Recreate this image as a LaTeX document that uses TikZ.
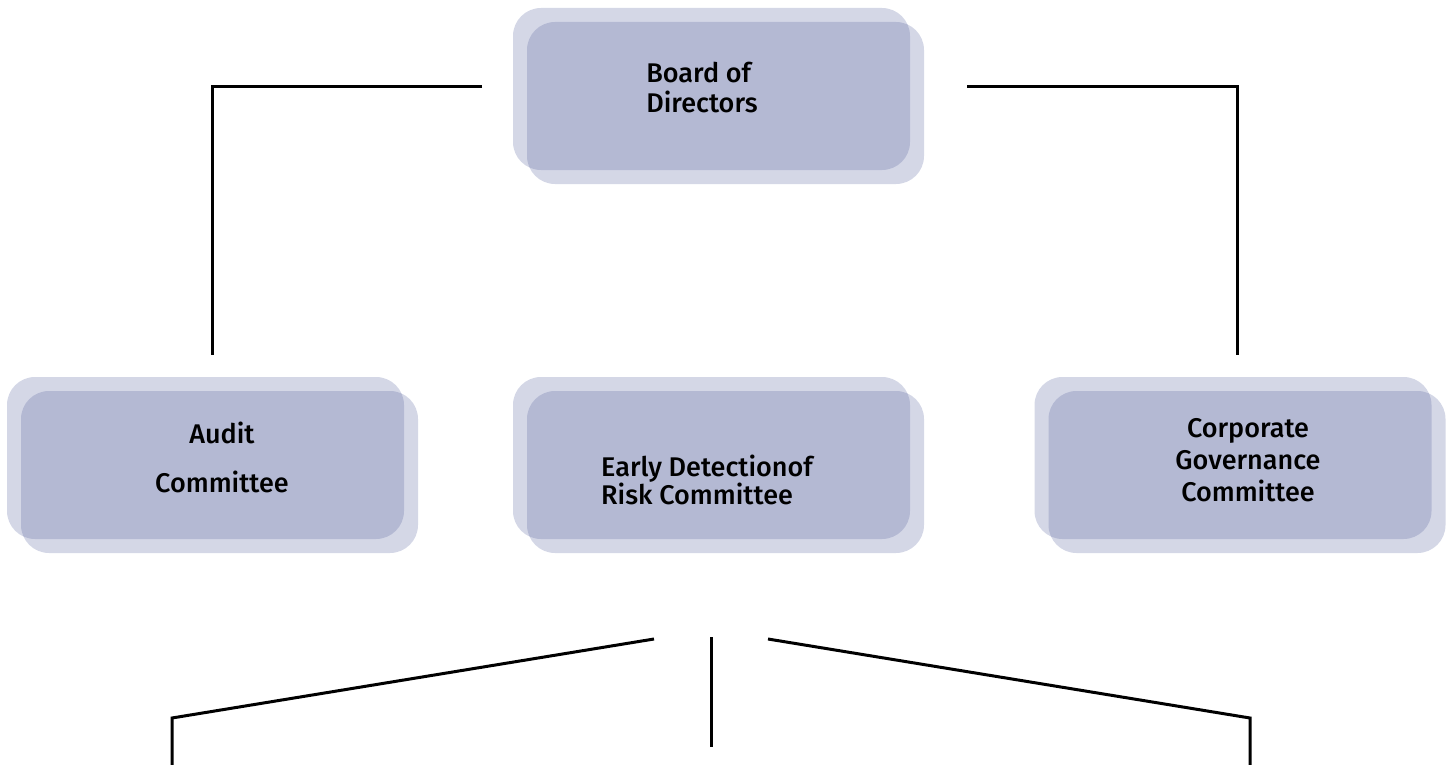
\documentclass[tikz,border=0pt]{standalone}
\usepackage{fontspec}
\setmainfont{Fira Sans}[UprightFont=* Medium]
\usetikzlibrary{positioning}
\definecolor{panelblue}{RGB}{76,88,151}
\tikzset{
  panel/.style={rounded corners=28pt, fill=panelblue, fill opacity=0.24,
    minimum width=397pt, minimum height=162pt, inner sep=0pt},
  caption/.style={text=black, inner sep=0pt},
  link/.style={line width=3pt, black}
}

\begin{document}
\begin{tikzpicture}[x=1pt,y=-1pt]
  \useasboundingbox (0,0) rectangle (1456,765);
  % panels, each drawn twice with a small offset
  \node[panel] (board) at (711.5,89) {};
  \node[panel] (boardsh) at ([shift={(14,14)}]board.center) {};
  \node[panel] (audit) at (205.5,458) {};
  \node[panel] (auditsh) at ([shift={(14,14)}]audit.center) {};
  \node[panel] (risk) at (711.5,458) {};
  \node[panel] (risksh) at ([shift={(14,14)}]risk.center) {};
  \node[panel] (corp) at (1233,458) {};
  \node[panel] (corpsh) at ([shift={(14,14)}]corp.center) {};
  % texts
  \node[caption, align=left, font=\fontsize{27}{30}\selectfont] (boardtxt) at (702,88) {Board of\\Directors};
  \node[caption, align=center, font=\fontsize{27}{49}\selectfont] (audittxt) at (222,457) {Audit\\Committee};
  \node[caption, align=left, font=\fontsize{27}{27}\selectfont] (risktxt) at (707,480) {Early Detectionof\\Risk Committee};
  \node[caption, align=center, font=\fontsize{27}{32}\selectfont] (corptxt) at (1248,460) {Corporate\\Governance\\Committee};
  % connectors
  \coordinate (upleft) at (482,87);
  \coordinate (auditend) at (212,355);
  \coordinate (upright) at (967,87);
  \coordinate (corpend) at (1237,355);
  \coordinate (downleft) at (654,639);
  \coordinate (kneeleft) at (172,718);
  \coordinate (footleft) at (172,765);
  \coordinate (downmid) at (711,637);
  \coordinate (footmid) at (711,747);
  \coordinate (downright) at (768,639);
  \coordinate (kneeright) at (1250,718);
  \coordinate (footright) at (1250,765);
  \draw[link] (upleft) -| (auditend);
  \draw[link] (upright) -| (corpend);
  \draw[link] (downleft) -- (kneeleft) -- (footleft);
  \draw[link] (downmid) -- (footmid);
  \draw[link] (downright) -- (kneeright) -- (footright);
\end{tikzpicture}
\end{document}
